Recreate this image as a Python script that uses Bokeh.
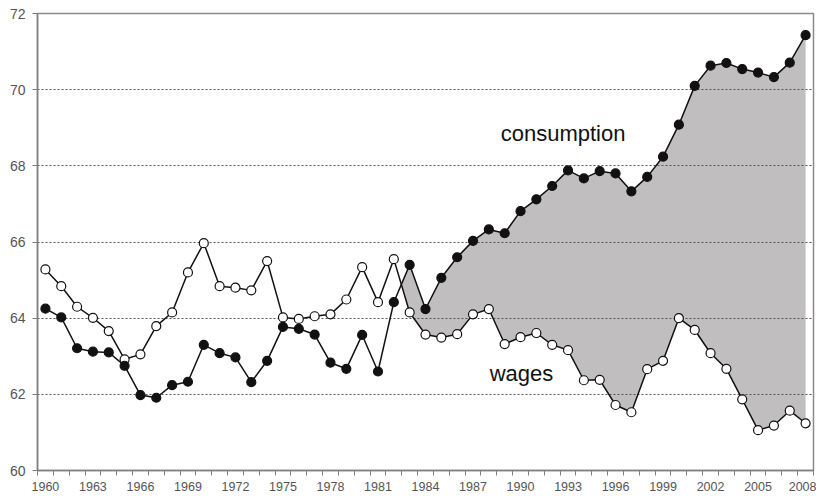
from bokeh.plotting import figure
from bokeh.models import FixedTicker, Range1d, Label
from bokeh.embed import file_html
from bokeh.resources import INLINE

years = list(range(1960, 2009))
consumption = [64.25, 64.02, 63.21, 63.12, 63.10, 62.75, 61.98, 61.91, 62.24, 62.33,
               63.30, 63.08, 62.97, 62.32, 62.88, 63.77, 63.72, 63.57, 62.83, 62.67,
               63.56, 62.60, 64.42, 65.40, 64.24, 65.06, 65.60, 66.03, 66.33, 66.23,
               66.81, 67.12, 67.47, 67.88, 67.67, 67.86, 67.80, 67.33, 67.71, 68.24,
               69.08, 70.10, 70.63, 70.70, 70.54, 70.45, 70.33, 70.71, 71.43]
wages = [65.28, 64.84, 64.30, 64.01, 63.66, 62.92, 63.05, 63.79, 64.15, 65.20,
         65.97, 64.84, 64.80, 64.73, 65.50, 64.02, 63.98, 64.05, 64.10, 64.49,
         65.34, 64.42, 65.55, 64.15, 63.57, 63.49, 63.58, 64.10, 64.24, 63.32,
         63.50, 63.61, 63.30, 63.16, 62.37, 62.38, 61.72, 61.53, 62.66, 62.88,
         64.00, 63.69, 63.08, 62.67, 61.87, 61.06, 61.18, 61.57, 61.24]
y_ticks = [60, 62, 64, 66, 68, 70, 72]
grid_values = [62, 64, 66, 68, 70]
label_years = years[::3]

# shaded gap: from where consumption crosses above wages for the last time
diff = [c - w for c, w in zip(consumption, wages)]
start = 0
for i in range(len(diff) - 1):
    if diff[i] < 0 <= diff[i + 1]:
        start = i
t = -diff[start] / (diff[start + 1] - diff[start])
xc = years[start] + t
yc = wages[start] + t * (wages[start + 1] - wages[start])
fill_x = [xc] + years[start + 1:]
fill_lo = [yc] + wages[start + 1:]
fill_hi = [yc] + consumption[start + 1:]

p = figure(width=816, height=497, output_backend="svg", toolbar_location=None,
           x_range=Range1d(years[0] - 0.5, years[-1] + 0.5),
           y_range=Range1d(y_ticks[0], y_ticks[-1]),
           min_border_left=37, min_border_right=3, min_border_top=13, min_border_bottom=27)
p.background_fill_color = "white"
p.border_fill_color = "white"
p.outline_line_color = "#8a8a8a"
p.outline_line_width = 1.5

p.xgrid.visible = False
p.ygrid.ticker = FixedTicker(ticks=grid_values)
p.ygrid.grid_line_color = "#555555"
p.ygrid.grid_line_dash = "2 2"
p.ygrid.grid_line_width = 1

axis_col = "#7f7f7f"
xa = p.xaxis[0]
xa.ticker = FixedTicker(ticks=label_years,
                        minor_ticks=[y - 0.5 for y in years] + [years[-1] + 0.5])
xa.major_tick_out = 0
xa.major_tick_in = 0
xa.minor_tick_out = 5
xa.minor_tick_in = 0
xa.minor_tick_line_color = axis_col
xa.axis_line_color = axis_col
xa.axis_line_width = 1.5
xa.major_label_standoff = 6
xa.major_label_text_font = "Liberation Sans"
xa.major_label_text_font_size = "12.5px"
xa.major_label_text_color = "#555555"

ya = p.yaxis[0]
ya.ticker = FixedTicker(ticks=y_ticks)
ya.major_tick_out = 5
ya.major_tick_in = 0
ya.major_tick_line_color = axis_col
ya.minor_tick_out = 0
ya.minor_tick_in = 0
ya.axis_line_color = axis_col
ya.axis_line_width = 1.5
ya.major_label_standoff = 7
ya.major_label_text_font = "Liberation Sans"
ya.major_label_text_font_size = "14px"
ya.major_label_text_color = "#555555"

p.varea(x=fill_x, y1=fill_lo, y2=fill_hi, fill_color="#c0bebe", level="image")

p.line(years, wages, line_color="#111111", line_width=1.5)
p.line(years, consumption, line_color="#111111", line_width=1.5)
p.scatter(years, wages, size=9, fill_color="white", line_color="#111111", line_width=1.2)
p.scatter(years, consumption, size=9, fill_color="#111111", line_color="#111111", line_width=1.2)

p.add_layout(Label(x=1988.75, y=68.85, text="consumption", text_font="Liberation Sans",
                   text_font_size="22px", text_baseline="middle", text_color="#111111"))
p.add_layout(Label(x=1988.05, y=62.55, text="wages", text_font="Liberation Sans",
                   text_font_size="22px", text_baseline="middle", text_color="#111111"))

open("out.html", "w").write(file_html(p, INLINE))
